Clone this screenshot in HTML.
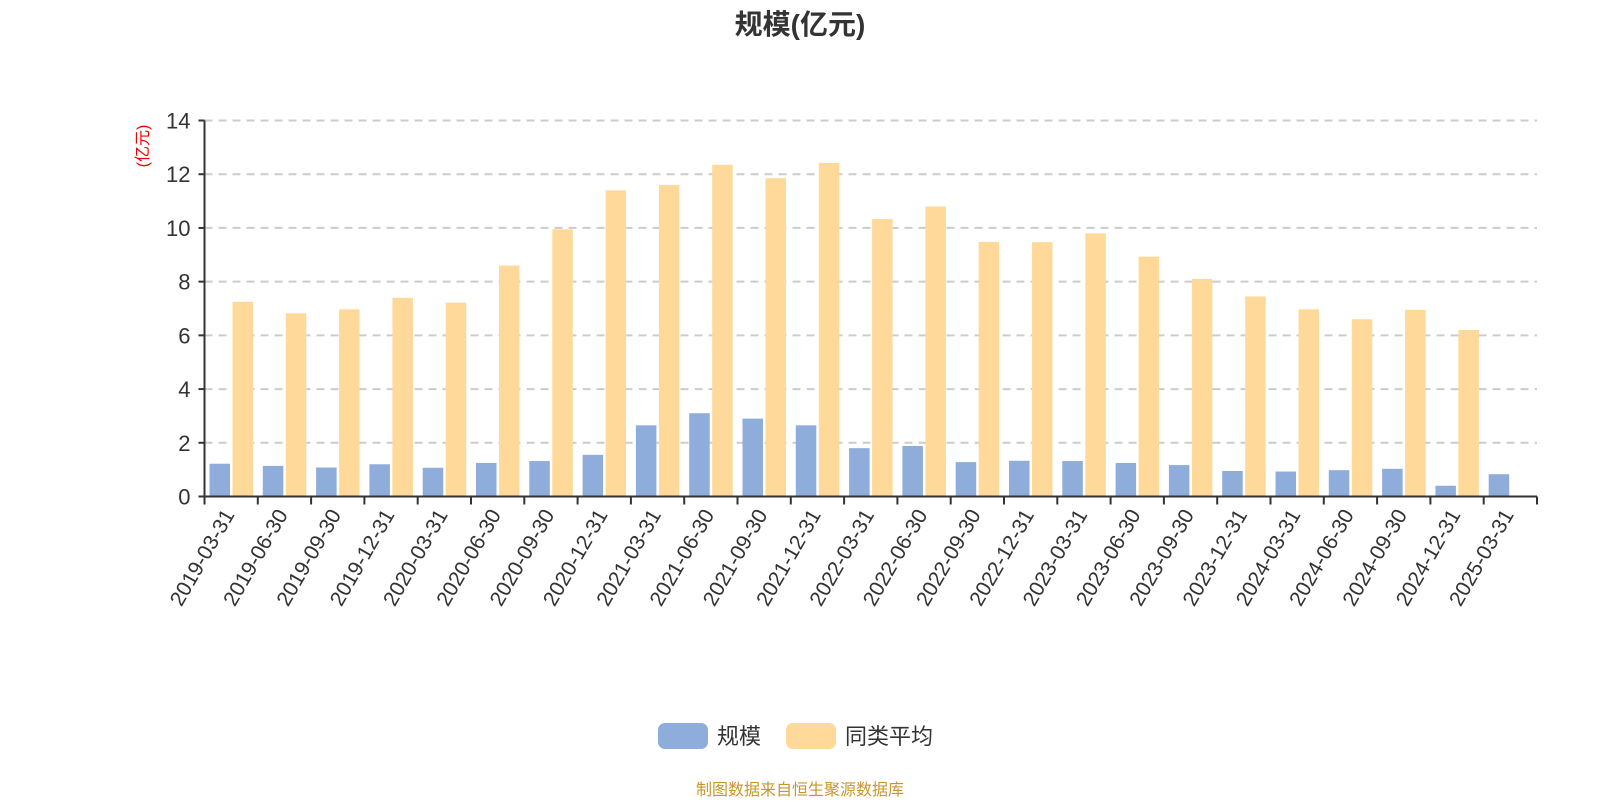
<!DOCTYPE html>
<html><head><meta charset="utf-8"><style>
body{margin:0;background:#fff;font-family:"Liberation Sans","Noto Sans CJK SC",sans-serif;}
svg text{font-family:"Liberation Sans","Noto Sans CJK SC",sans-serif;}
</style></head><body>
<svg id="c" width="1600" height="800">
<text x="800" y="34" text-anchor="middle" font-size="28" font-weight="bold" fill="#333">规模(亿元)</text>
<text transform="translate(148,146) rotate(-90)" text-anchor="middle" font-size="16" fill="#e00">(亿元)</text>
<g id="grid"></g><g id="bars"></g><g id="axes"></g>
<g>
<rect x="658" y="723" width="50" height="26" rx="7" fill="#8eadda"/>
<text x="717" y="744" font-size="22" fill="#333">规模</text>
<rect x="786" y="723" width="50" height="26" rx="7" fill="#ffd99a"/>
<text x="845" y="744" font-size="22" fill="#333">同类平均</text>
</g>
<text x="800" y="795" text-anchor="middle" font-size="16" fill="#c8962a">制图数据来自恒生聚源数据库</text>
</svg>
<script>
const categories=["2019-03-31","2019-06-30","2019-09-30","2019-12-31","2020-03-31","2020-06-30","2020-09-30","2020-12-31","2021-03-31","2021-06-30","2021-09-30","2021-12-31","2022-03-31","2022-06-30","2022-09-30","2022-12-31","2023-03-31","2023-06-30","2023-09-30","2023-12-31","2024-03-31","2024-06-30","2024-09-30","2024-12-31","2025-03-31"];
const scaleValues=[1.22,1.14,1.08,1.2,1.07,1.25,1.32,1.55,2.65,3.1,2.9,2.65,1.8,1.88,1.28,1.33,1.32,1.25,1.17,0.95,0.93,0.98,1.03,0.4,0.83];
const avgValues=[7.25,6.82,6.97,7.4,7.22,8.6,9.95,11.4,11.6,12.35,11.85,12.42,10.33,10.8,9.48,9.47,9.8,8.93,8.1,7.45,6.97,6.6,6.95,6.2,null];
const yTicks=[0,2,4,6,8,10,12,14];
const NS="http://www.w3.org/2000/svg";
const X0=204.5,X1=1537,Y0=496.5,Y1=120.5,YMAX=14;
const bw=(X1-X0)/categories.length;
const y=v=>Y0-(v/YMAX)*(Y0-Y1);
const x=i=>X0+i*bw;
function mk(t,a,p){const e=document.createElementNS(NS,t);for(const k in a)e.setAttribute(k,a[k]);p.appendChild(e);return e;}
const grid=document.getElementById('grid'),bars=document.getElementById('bars'),axes=document.getElementById('axes');
yTicks.forEach(v=>{
 if(v>0){const l=mk('line',{x1:X0,x2:X1,y1:y(v),y2:y(v),stroke:'#ccc','stroke-width':2,'stroke-dasharray':'8,6'},grid);
 
 }
 const t=mk('text',{x:X0-14,y:y(v)+8,'text-anchor':'end','font-size':22,fill:'#333'},axes);t.textContent=v;
 
 
 mk('line',{x1:X0-6,x2:X0,y1:y(v),y2:y(v),stroke:'#333','stroke-width':2},axes);
});
categories.forEach((c,i)=>{
 const bx=x(i)+5;
 if(scaleValues[i]!=null){const r=mk('rect',{x:bx,y:y(scaleValues[i]),width:20.5,height:Y0-y(scaleValues[i]),fill:'#8eadda'},bars);
 
 }
 if(avgValues[i]!=null){const r=mk('rect',{x:bx+23,y:y(avgValues[i]),width:20.5,height:Y0-y(avgValues[i]),fill:'#ffd99a'},bars);
 
 }
 const tx=x(i)+bw/2+4,ty=Y0+18;
 const t=mk('text',{x:tx,y:ty,'text-anchor':'end','font-size':21,fill:'#333',transform:`rotate(-60 ${tx} ${ty})`},axes);t.textContent=c;
 
 
});
for(let i=0;i<=categories.length;i++)mk('line',{x1:x(i),x2:x(i),y1:Y0,y2:Y0+8,stroke:'#333','stroke-width':2},axes);
const ax=mk('line',{x1:X0,x2:X1,y1:Y0,y2:Y0,stroke:'#333','stroke-width':2},axes);


const ay=mk('line',{x1:X0,x2:X0,y1:Y1,y2:Y0,stroke:'#333','stroke-width':2},axes);


</script>
</body></html>
